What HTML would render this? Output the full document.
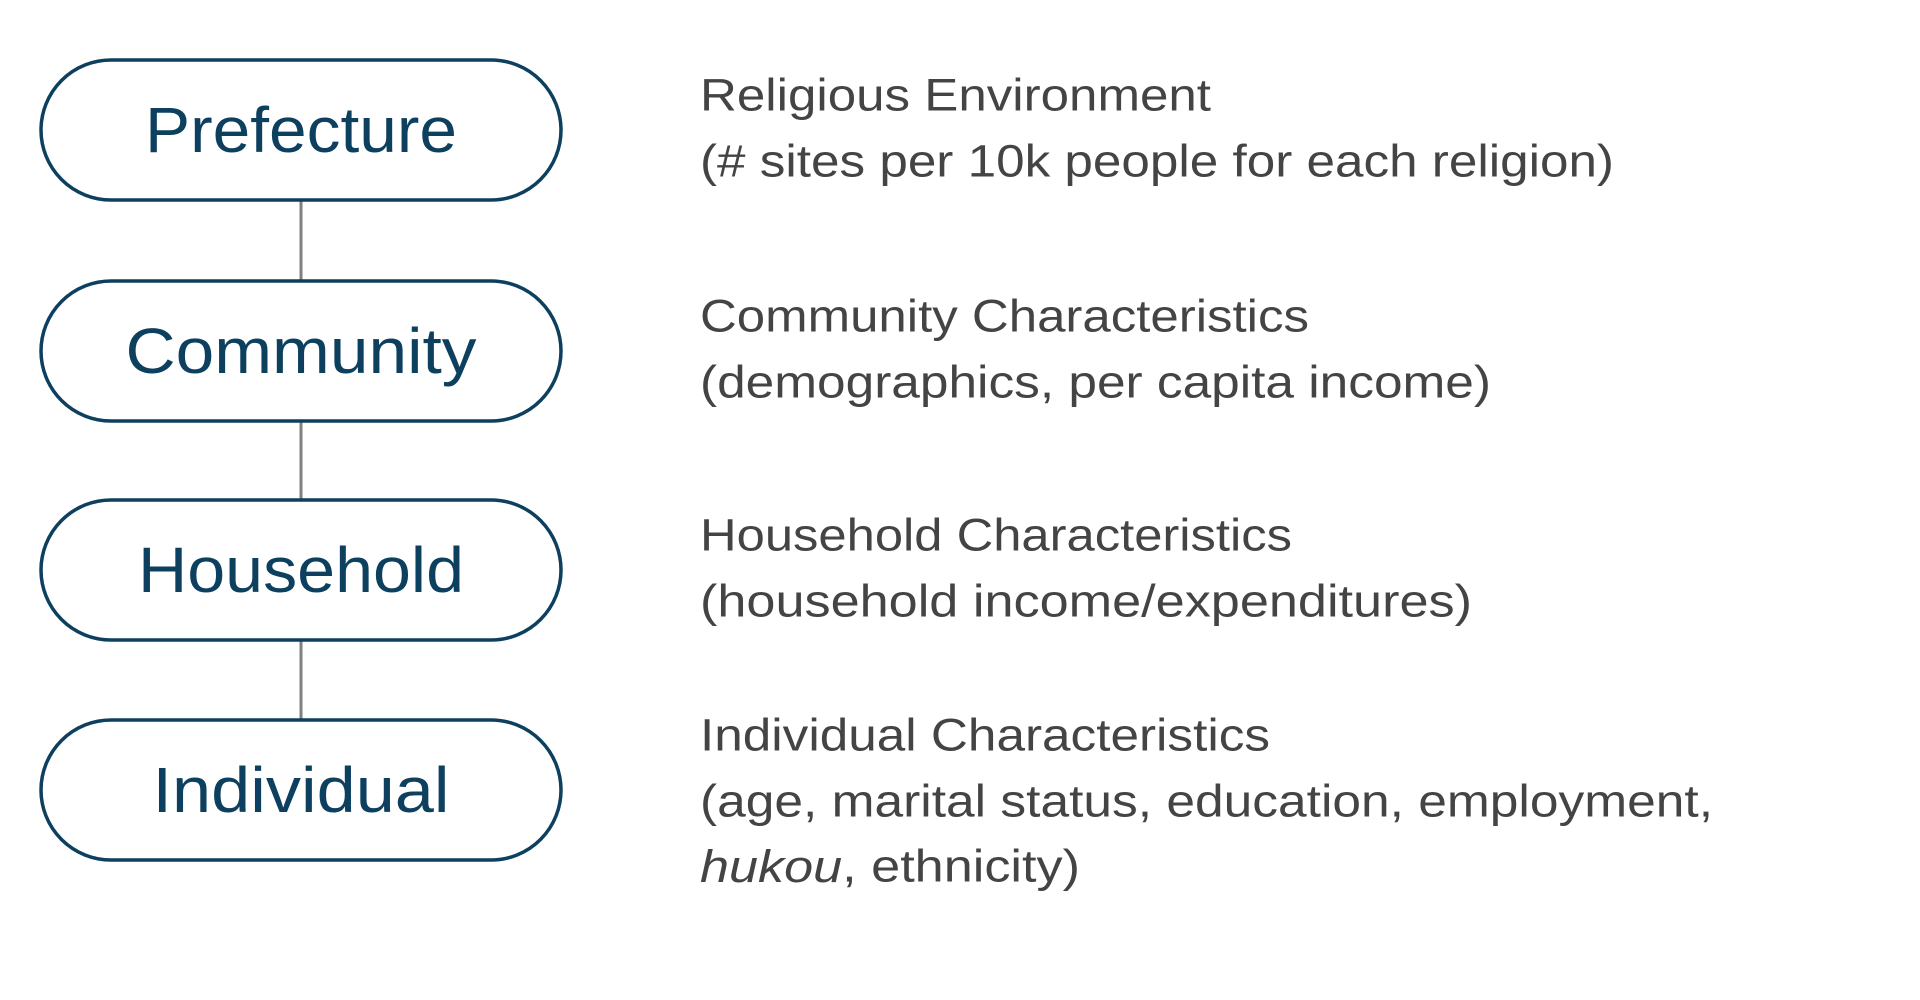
<!DOCTYPE html>
<html><head><meta charset="utf-8"><style>
html,body{margin:0;padding:0;background:#fff;width:1920px;height:1000px;overflow:hidden}
svg{display:block}
.pill{fill:#fff;stroke:#0d3f5f;stroke-width:3.5}
.pt{font-family:"Liberation Sans",sans-serif;font-size:64px;fill:#0d3f5f}
.dt{font-family:"Liberation Sans",sans-serif;font-size:45px;fill:#444}
.ln{stroke:#808080;stroke-width:3}
</style></head><body>
<svg width="1920" height="1000">
<line class="ln" x1="301" y1="200" x2="301" y2="280"/>
<line class="ln" x1="301" y1="421" x2="301" y2="499"/>
<line class="ln" x1="301" y1="640" x2="301" y2="720"/>
<g>
<rect class="pill" x="41" y="60" width="520" height="140" rx="70"/>
<text class="pt" x="301" y="130" text-anchor="middle" dominant-baseline="central" textLength="312" lengthAdjust="spacingAndGlyphs">Prefecture</text></g>
<g>
<rect class="pill" x="41" y="281" width="520" height="140" rx="70"/>
<text class="pt" x="301" y="351" text-anchor="middle" dominant-baseline="central" textLength="351" lengthAdjust="spacingAndGlyphs">Community</text></g>
<g>
<rect class="pill" x="41" y="500" width="520" height="140" rx="70"/>
<text class="pt" x="301" y="570" text-anchor="middle" dominant-baseline="central" textLength="326" lengthAdjust="spacingAndGlyphs">Household</text></g>
<g>
<rect class="pill" x="41" y="720" width="520" height="140" rx="70"/>
<text class="pt" x="301" y="790" text-anchor="middle" dominant-baseline="central" textLength="297" lengthAdjust="spacingAndGlyphs">Individual</text></g>
<g>
<text class="dt" x="700" y="95" dominant-baseline="central" textLength="511" lengthAdjust="spacingAndGlyphs">Religious Environment</text>
<text class="dt" x="700" y="161" dominant-baseline="central" textLength="914" lengthAdjust="spacingAndGlyphs">(# sites per 10k people for each religion)</text></g>
<g>
<text class="dt" x="700" y="316" dominant-baseline="central" textLength="609" lengthAdjust="spacingAndGlyphs">Community Characteristics</text>
<text class="dt" x="700" y="382" dominant-baseline="central" textLength="791" lengthAdjust="spacingAndGlyphs">(demographics, per capita income)</text></g>
<g>
<text class="dt" x="700" y="535" dominant-baseline="central" textLength="592" lengthAdjust="spacingAndGlyphs">Household Characteristics</text>
<text class="dt" x="700" y="601" dominant-baseline="central" textLength="772" lengthAdjust="spacingAndGlyphs">(household income/expenditures)</text></g>
<g>
<text class="dt" x="700" y="735" dominant-baseline="central" textLength="570" lengthAdjust="spacingAndGlyphs">Individual Characteristics</text>
<text class="dt" x="700" y="801" dominant-baseline="central" textLength="1013" lengthAdjust="spacingAndGlyphs">(age, marital status, education, employment,</text>
<text class="dt" x="700" y="866" dominant-baseline="central" textLength="380" lengthAdjust="spacingAndGlyphs"><tspan font-style="italic">hukou</tspan>, ethnicity)</text></g>
</svg>
</body></html>
